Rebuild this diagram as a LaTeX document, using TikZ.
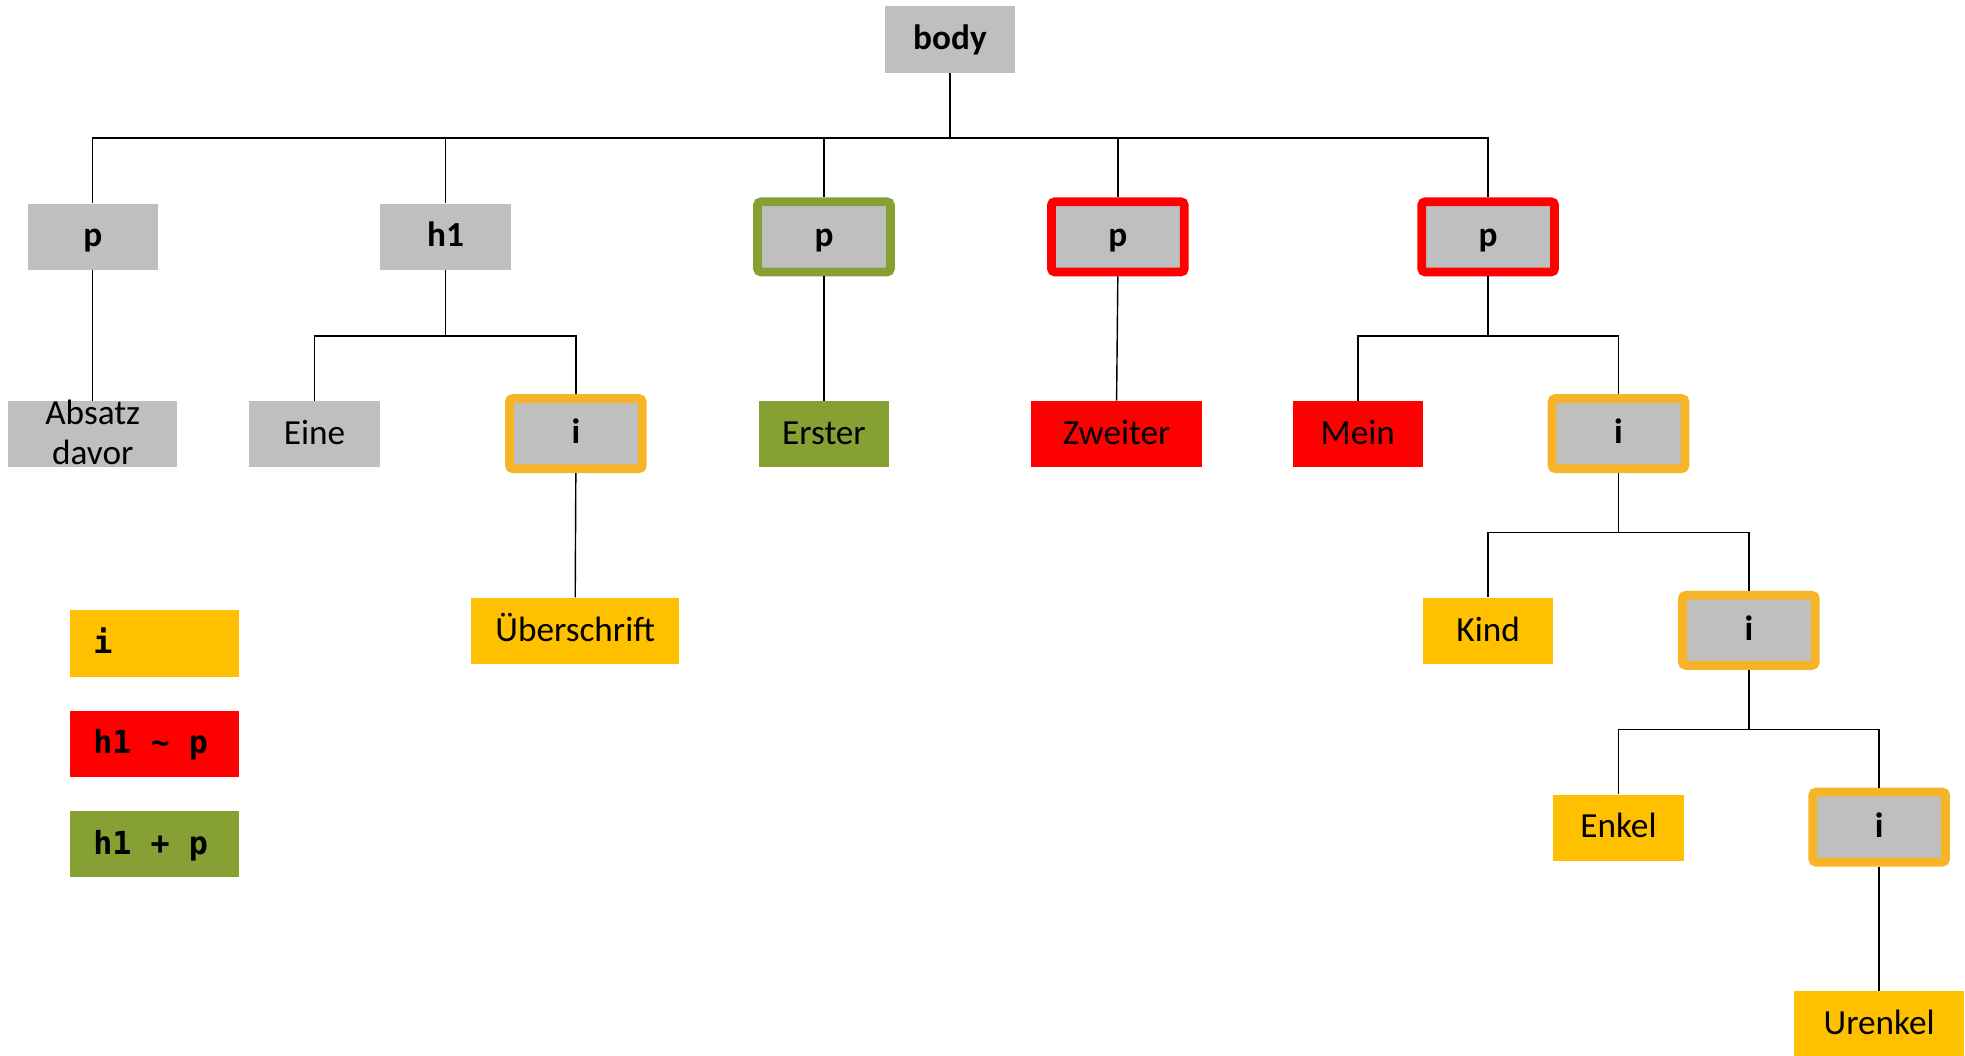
\documentclass[tikz,border=0pt]{standalone}
\usepackage{fontspec}
\setmainfont{Carlito}
\newfontfamily\legfont{DejaVu Sans Mono}
\newcommand\msp{\hspace*{0.602em}}
\definecolor{boxgray}{RGB}{191,191,191}
\definecolor{ygold}{RGB}{255,192,0}
\definecolor{yborder}{RGB}{246,180,38}
\definecolor{rred}{RGB}{255,0,0}
\definecolor{ggreen}{RGB}{134,160,52}
\tikzset{
  base/.style={inner sep=0pt, minimum height=1.325cm, text height=15.5pt, text depth=4pt, font=\fontsize{20}{24}\selectfont, text=black},
  gbox/.style={base, fill=boxgray, minimum width=2.6cm, font=\fontsize{20}{24}\selectfont\bfseries},
  fbox/.style={gbox, draw=#1, line width=0.175cm, rounded corners=2pt, minimum width=2.65cm, minimum height=1.4cm},
  leaf/.style={base, fill=#1, minimum width=2.6cm},
  leg/.style={base, fill=#1, minimum width=3.375cm, text width=2.45cm, align=left, font=\fontsize{18}{22}\legfont\bfseries},
  twoline/.style={inner sep=0pt, align=center, font=\fontsize{20}{22.7}\selectfont, text=black},
  conn/.style={draw=black, line width=0.8pt},
}
\begin{document}
\begin{tikzpicture}[x=0.025cm, y=-0.025cm]
\useasboundingbox (0,0) rectangle (1568,842);
% level 0
\node[gbox] (body) at (758,31.5) {body};
% level 1
\node[gbox] (p1) at (74,189) {p};
\node[gbox] (h1) at (355.5,189) {h1};
\node[fbox=ggreen] (p2) at (657.5,189) {p};
\node[fbox=rred] (p3) at (892,189) {p};
\node[fbox=rred] (p4) at (1187.5,189) {p};
% level 2
\node[leaf=boxgray, minimum width=3.375cm] (absatz) at (74,346.5) {};
\node[twoline] (absatztext) at ([yshift=1pt]absatz.center) {Absatz\\davor};
\node[leaf=boxgray] (eine) at (251,346.5) {Eine};
\node[fbox=yborder] (i1) at (459.5,346) {i};
\node[leaf=ggreen] (erster) at (657.5,346.5) {Erster};
\node[leaf=rred, minimum width=3.4cm] (zweiter) at (891,346.5) {Zweiter};
\node[leaf=rred] (mein) at (1083.5,346.5) {Mein};
\node[fbox=yborder] (i2) at (1291.5,346) {i};
% level 3
\node[leaf=ygold, minimum width=4.15cm] (ueber) at (459,503.5) {Überschrift};
\node[leaf=ygold] (kind) at (1187.5,503.5) {Kind};
\node[fbox=yborder] (i3) at (1395.5,503) {i};
% level 4
\node[leaf=ygold] (enkel) at (1291.5,660.5) {Enkel};
\node[fbox=yborder] (i4) at (1499.5,660) {i};
% level 5
\node[leaf=ygold, minimum width=3.4cm] (urenkel) at (1499.5,817.5) {Urenkel};
% legend
\node[leg=ygold] (lgi) at (123.5,513.5) {i};
\node[leg=rred] (lgr) at (123.5,593.5) {h1\msp\char126\msp p};
\node[leg=ggreen] (lgg) at (123.5,673.5) {h1\msp+\msp p};
% bus coordinates
\coordinate (b0) at (758,110);
\coordinate (b1) at (355.5,268);
\coordinate (b2) at (1187.5,268);
\coordinate (b3) at (1291.5,425);
\coordinate (b4) at (1395.5,582);
% connectors
\draw[conn] (body.south) -- (b0);
\foreach \c in {p1,h1,p2,p3,p4} \draw[conn] (b0) -| (\c.north);
\draw[conn] (p1.south) -- (absatz.north);
\draw[conn] (h1.south) -- (b1);
\foreach \c in {eine,i1} \draw[conn] (b1) -| (\c.north);
\draw[conn] (i1.south) -- (ueber.north);
\draw[conn] (p2.south) -- (erster.north);
\draw[conn] (p3.south) -- (zweiter.north);
\draw[conn] (p4.south) -- (b2);
\foreach \c in {mein,i2} \draw[conn] (b2) -| (\c.north);
\draw[conn] (i2.south) -- (b3);
\foreach \c in {kind,i3} \draw[conn] (b3) -| (\c.north);
\draw[conn] (i3.south) -- (b4);
\foreach \c in {enkel,i4} \draw[conn] (b4) -| (\c.north);
\draw[conn] (i4.south) -- (urenkel.north);
\end{tikzpicture}
\end{document}
